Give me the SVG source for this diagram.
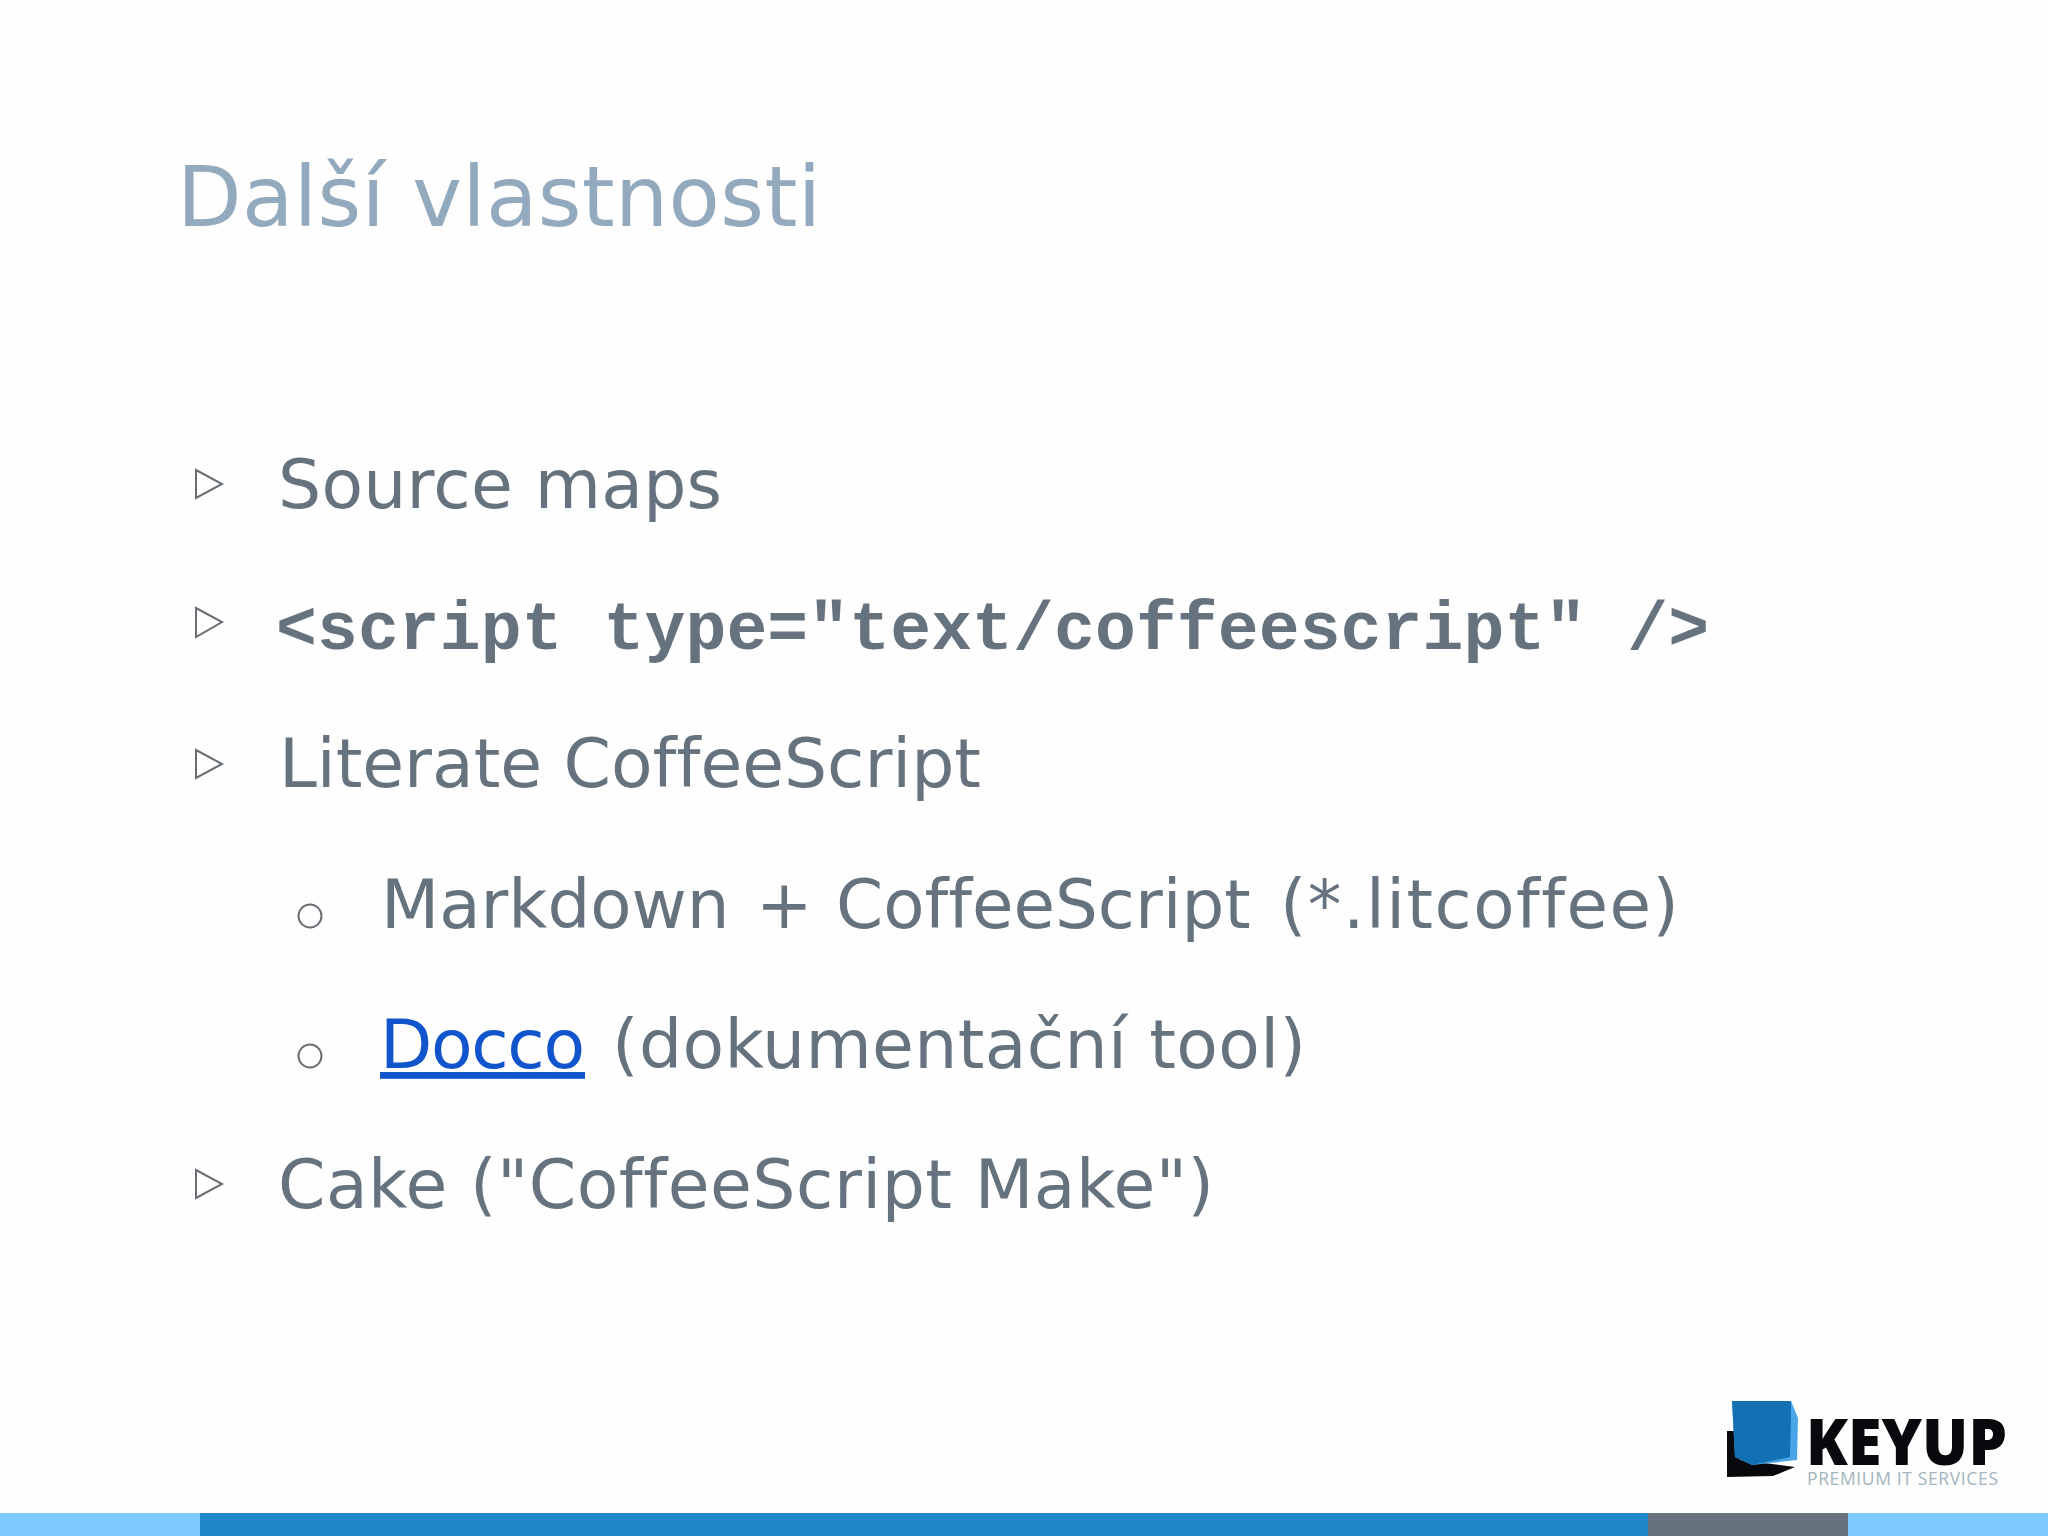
<svg xmlns="http://www.w3.org/2000/svg" width="2048" height="1536" viewBox="0 0 2048 1536">
<style>
text{font-variant-ligatures:none}
.t{font-family:"DejaVu Sans",sans-serif;font-size:68px;fill:#66737f}
.m{font-family:"Liberation Mono",monospace;font-size:68px;font-weight:bold;fill:#66737f}
.b{fill:none;stroke:#6a6f75;stroke-width:2}
</style>
<rect width="2048" height="1536" fill="#fefefe"/>
<text x="177" y="226" font-family="DejaVu Sans,sans-serif" font-size="84" textLength="644" lengthAdjust="spacing" fill="#93a9bd">Další vlastnosti</text>
<g id="item1"><path class="b" d="M196 470L222 484L196 498Z"/><text class="t" x="278" y="508" textLength="444" lengthAdjust="spacing">Source maps</text></g>
<g id="item2"><path class="b" d="M196 608L222 622L196 637Z"/><text class="m" x="276" y="649" textLength="1433" lengthAdjust="spacing">&lt;script type="text/coffeescript" /&gt;</text></g>
<g id="item3"><path class="b" d="M196 750L222 764L196 778Z"/><text class="t" x="279" y="787" textLength="702" lengthAdjust="spacing">Literate CoffeeScript</text></g>
<g id="item4"><circle class="b" cx="310" cy="916" r="11.500"/><text class="t" y="928" style="font-size:67.500px"><tspan x="381">Markdown</tspan> <tspan x="756">+</tspan> <tspan x="836">CoffeeScript</tspan> <tspan x="1280" letter-spacing="1.500">(*.litcoffee)</tspan></text></g>
<g id="item5"><circle class="b" cx="310" cy="1056" r="11.500"/><text class="t" x="380" y="1068" textLength="205" lengthAdjust="spacing" style="fill:#1155cc" text-decoration="underline">Docco</text><text class="t" x="612" y="1068" textLength="694" lengthAdjust="spacing">(dokumentační tool)</text></g>
<g id="item6"><path class="b" d="M196 1170L222 1184L196 1198Z"/><text class="t" x="278" y="1208" textLength="936" lengthAdjust="spacing">Cake ("CoffeeScript Make")</text></g>
<g id="logo">
<path d="M1727 1431H1740V1460L1795 1467L1773 1476L1727 1477Z" fill="#07090c"/>
<path d="M1791 1401L1798 1418L1797 1460L1752 1465L1735 1457L1732 1401Z" fill="#4aa5e8"/>
<path d="M1732 1401H1791V1414L1790 1457L1752 1465L1735 1457Z" fill="#1370b2"/>
<text x="1806" y="1465" font-family="Open Sans,sans-serif" font-weight="800" font-size="63" textLength="201" lengthAdjust="spacingAndGlyphs" fill="#07090c">KEYUP</text>
<text x="1807" y="1485" font-family="Open Sans,sans-serif" font-size="17.500" textLength="191" lengthAdjust="spacing" fill="#a3b4bf">PREMIUM IT SERVICES</text>
</g>
<g id="footer">
<rect y="1513" width="200" height="23" fill="#7fcbff"/>
<rect x="200" y="1513" width="1448" height="23" fill="#1f88c9"/>
<rect x="1648" y="1513" width="200" height="23" fill="#66737f"/>
<rect x="1848" y="1513" width="200" height="23" fill="#7fcbff"/>
</g>
</svg>
